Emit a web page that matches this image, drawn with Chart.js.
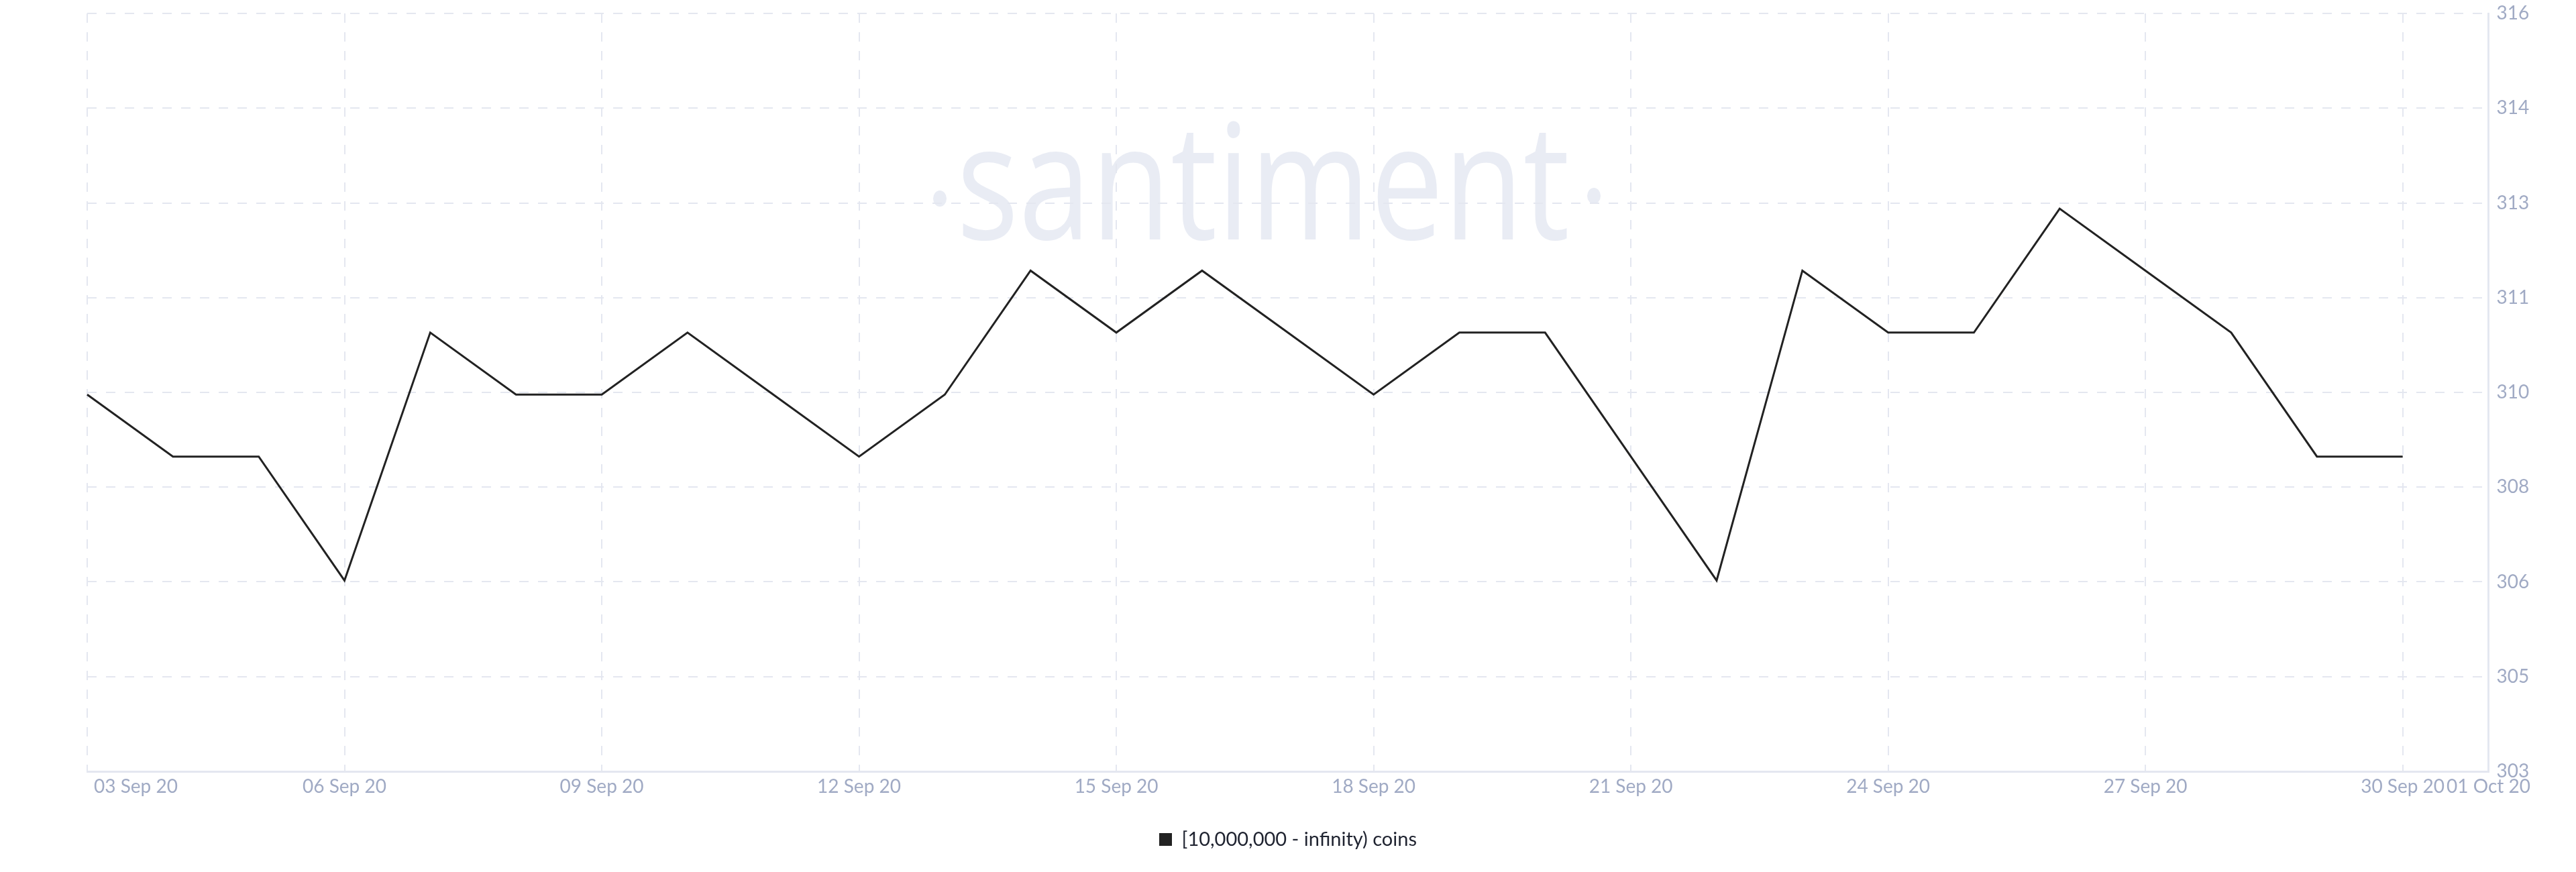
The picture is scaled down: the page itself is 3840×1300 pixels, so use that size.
<!DOCTYPE html>
<html>
<head>
<meta charset="utf-8">
<script src="https://cdn.jsdelivr.net/npm/chart.js@4.4.0/dist/chart.umd.min.js"></script>
<style>
  html, body { margin: 0; padding: 0; background: #fff; }
  #wrap { width: 3840px; height: 1300px; }
</style>
</head>
<body>
<div id="wrap"><canvas id="chart" width="3840" height="1300"></canvas></div>
<script>
// daily categories, the last one (01 Oct) has no value, it only closes the axis
const days = ['03 Sep 20', '04 Sep 20', '05 Sep 20', '06 Sep 20', '07 Sep 20', '08 Sep 20', '09 Sep 20',
  '10 Sep 20', '11 Sep 20', '12 Sep 20', '13 Sep 20', '14 Sep 20', '15 Sep 20', '16 Sep 20',
  '17 Sep 20', '18 Sep 20', '19 Sep 20', '20 Sep 20', '21 Sep 20', '22 Sep 20', '23 Sep 20',
  '24 Sep 20', '25 Sep 20', '26 Sep 20', '27 Sep 20', '28 Sep 20', '29 Sep 20', '30 Sep 20', '01 Oct 20'];
const holders = [310, 309, 309, 307, 311, 310, 310, 311, 310, 309, 310, 312, 311, 312,
  311, 310, 311, 311, 309, 307, 312, 311, 311, 313, 312, 311, 309, 309];
const seriesName = '[10,000,000 - infinity) coins';
const yMin = 303.92, yMax = 316.15, yTickCount = 9;
const labelEvery = 3;

const tickColor = '#a0aac4';
const gridColor = '#e4e7f0';
const fontFamily = 'Lato, "Open Sans", sans-serif';

// ·santiment· mark behind the grid
const watermark = {
  id: 'watermark',
  beforeDraw(chart) {
    const ctx = chart.ctx;
    ctx.save();
    ctx.fillStyle = '#e9ecf4';
    ctx.font = '400 241px "Open Sans"';
    ctx.textBaseline = 'alphabetic';
    const w = ctx.measureText('santiment').width;
    ctx.translate(1426, 357);
    ctx.scale(914 / w, 1);
    ctx.fillText('santiment', 0, 0);
    ctx.restore();
    ctx.save();
    ctx.fillStyle = '#e9ecf4';
    ctx.beginPath();
    ctx.ellipse(1401, 296, 10, 12, 0, 0, Math.PI * 2);
    ctx.ellipse(2376, 292, 10, 12, 0, 0, Math.PI * 2);
    ctx.fill();
    ctx.restore();
  }
};

// first date label starts at its grid line instead of being centred on it,
// legend is centred on the whole canvas, not only right of the left margin
const tweaks = {
  id: 'tweaks',
  afterLayout(chart) {
    chart.legend.left = 0;
  },
  beforeDraw(chart) {
    const items = chart.scales.x.getLabelItems();
    if (items.length) {
      items[0].options.textAlign = 'left';
      items[0].options.translation[0] += 10;
    }
  }
};

new Chart(document.getElementById('chart'), {
  type: 'line',
  data: {
    labels: days,
    datasets: [{
      label: seriesName,
      data: holders,
      borderColor: '#222222',
      backgroundColor: '#222222',
      borderWidth: 3,
      pointRadius: 0,
      tension: 0
    }]
  },
  options: {
    responsive: false,
    devicePixelRatio: 1,
    animation: false,
    layout: { padding: { left: 130, top: 20, right: 0, bottom: 24 } },
    scales: {
      x: {
        offset: false,
        grid: {
          color: c => (c.index % labelEvery === 0 ? gridColor : 'transparent'),
          lineWidth: 2,
          drawTicks: false
        },
        border: { display: true, color: gridColor, width: 3, dash: [14, 14] },
        ticks: {
          autoSkip: false,
          maxRotation: 0,
          padding: 6,
          color: tickColor,
          font: { family: fontFamily, size: 28 },
          callback: function (v, i) {
            return (i % labelEvery === 0 || i === days.length - 1) ? this.getLabelForValue(v) : '';
          }
        },
        afterFit: s => { s.height = 77; }
      },
      y: {
        position: 'right',
        min: yMin,
        max: yMax,
        grid: { color: gridColor, lineWidth: 2, drawTicks: false },
        border: { display: true, color: gridColor, width: 3, dash: [14, 14] },
        ticks: {
          count: yTickCount,
          padding: 12,
          color: tickColor,
          font: { family: fontFamily, size: 28 },
          callback: v => Math.floor(v)
        },
        afterFit: s => {
          s.width = 130.5;
          // top/bottom labels may hang over the plot edge like in the original
          s.paddingTop = 0;
          s.paddingBottom = 0;
        }
      }
    },
    plugins: {
      tooltip: { enabled: false },
      legend: {
        position: 'bottom',
        labels: {
          boxWidth: 19,
          boxHeight: 19,
          color: '#1f2330',
          font: { family: fontFamily, size: 29 },
          generateLabels(chart) {
            const items = Chart.defaults.plugins.legend.labels.generateLabels(chart);
            items.forEach(it => { it.lineWidth = 0; });
            return items;
          }
        }
      }
    }
  },
  plugins: [watermark, tweaks]
});
</script>
</body>
</html>
